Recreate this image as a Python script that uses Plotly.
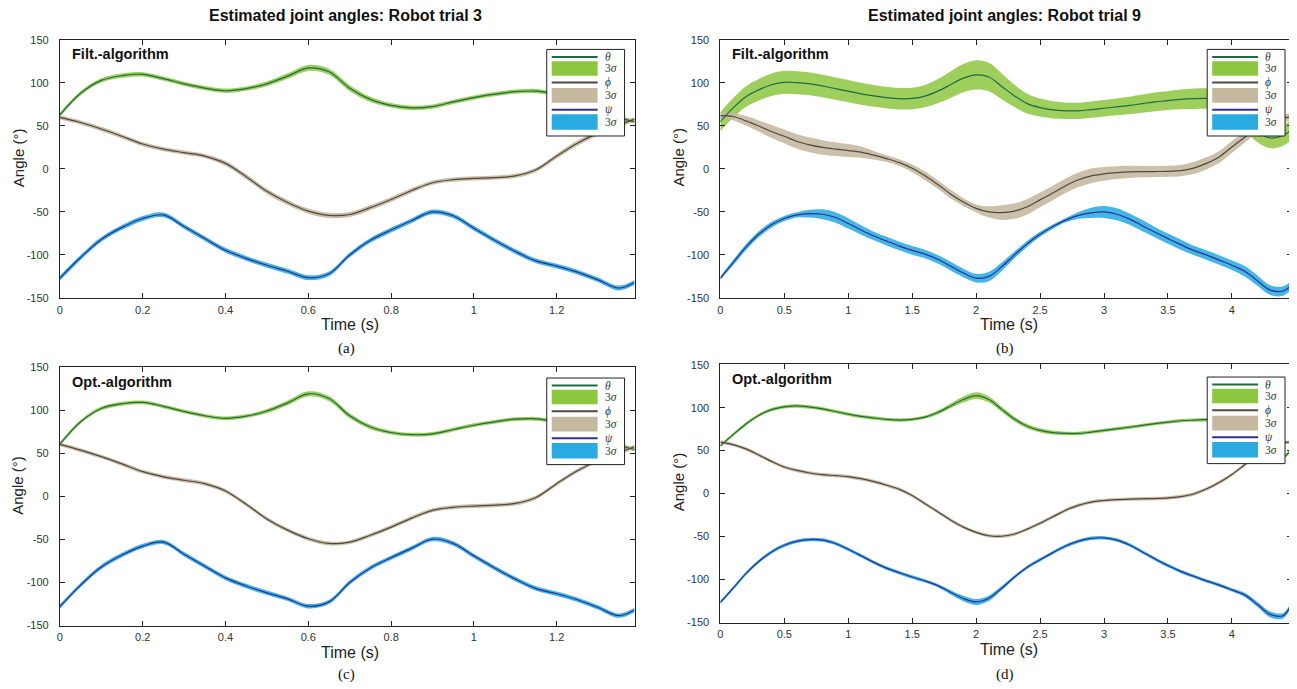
import plotly.graph_objects as go

W, H = 1297, 689
OFF = 8  # browser body margin of the page
WF, HF = W - OFF, H - OFF

# ---------------- data ----------------
# Robot trial 3 (panels a, c)
t_a = [0, 0.05, 0.1, 0.15, 0.2, 0.25, 0.3, 0.35, 0.4, 0.45, 0.5, 0.55, 0.6, 0.65, 0.7,
       0.75, 0.8, 0.85, 0.9, 0.95, 1.0, 1.05, 1.1, 1.15, 1.2, 1.25, 1.3, 1.35, 1.388]
theta_a = [63, 88, 103, 108.5, 110, 105, 99, 94, 91, 93.5, 99, 108, 117.5, 113, 94,
           81, 74, 71, 72.5, 78, 83, 87, 90, 90.5, 87, 82, 72, 60, 55]
phi_a = [60, 54, 46.5, 38, 29, 23, 19, 15, 6.5, -9, -26, -39, -49, -54, -53,
         -45, -35.5, -25, -16, -12.5, -11, -10, -8, -1, 15, 30, 42, 51, 58]
psi_a = [-127, -103, -82, -68, -57.6, -53.5, -67, -81, -94.6, -104, -112, -119, -126.5, -122, -100,
         -83, -71, -60, -50, -54.5, -69, -83, -96, -107, -113, -120, -129, -138.5, -132]
theta_3s_a = [2.5, 2.5, 2.5, 2.5, 2.5, 2.5, 2.5, 2.5, 2.5, 2.5, 2.8, 3.2, 3.5, 3.5, 3.5,
              3.0, 2.6, 2.5, 2.5, 2.5, 2.5, 2.5, 2.5, 2.5, 2.5, 2.5, 2.5, 2.5, 2.5]
phi_3s_a = [2.5, 2.5, 2.5, 2.5, 2.5, 2.5, 2.5, 2.5, 2.8, 3.0, 3.0, 3.0, 3.0, 3.0, 3.0,
            3.0, 3.0, 2.8, 2.5, 2.5, 2.5, 2.5, 2.5, 2.5, 2.8, 3.0, 3.0, 2.8, 2.5]
psi_3s_a = [2.8] * 29

theta_c = [61, 87, 102.5, 108, 109.5, 105, 99, 94, 91, 93.5, 99.5, 109, 119.5, 114, 94,
           81, 74.5, 72, 73, 78, 83, 87, 90, 90.5, 87, 82, 72, 60, 55]
phi_c = [60.7, 54, 46.5, 38, 29, 23, 19, 15, 6.5, -9, -26, -39, -49, -54.5, -53,
         -45, -35.5, -25, -16, -12.5, -11, -10, -8, -1, 15, 30, 42, 51, 58]
psi_c = [-128, -103, -82, -68, -57.6, -53, -67, -81, -94.6, -104, -112, -119, -127.5, -122.5, -100,
         -83, -71, -60, -49.5, -54.5, -69, -83, -96, -107, -113, -120, -129, -138.5, -132]
theta_3s_c = [2.2, 2.2, 2.2, 2.2, 2.2, 2.2, 2.2, 2.2, 2.2, 2.2, 2.5, 2.8, 3.0, 3.0, 3.0,
              2.6, 2.2, 2.2, 2.2, 2.2, 2.2, 2.2, 2.2, 2.2, 2.2, 2.2, 2.2, 2.2, 2.2]
phi_3s_c = [2.3] * 29
psi_3s_c = [2.6] * 29

# Robot trial 9 (panels b, d)
t_b = [0, 0.1, 0.2, 0.3, 0.4, 0.5, 0.6, 0.7, 0.8, 0.9, 1.0, 1.1, 1.2, 1.3, 1.4,
       1.5, 1.6, 1.7, 1.8, 1.9, 2.0, 2.1, 2.2, 2.3, 2.4, 2.5, 2.6, 2.7, 2.8, 2.9,
       3.0, 3.1, 3.2, 3.3, 3.4, 3.5, 3.6, 3.7, 3.8, 3.9, 4.0, 4.1, 4.2, 4.3, 4.4, 4.47]
theta_b = [55, 71, 84, 92, 98, 100.8, 100.4, 99, 96.5, 93.5, 90.5, 87.4, 85, 83, 81.7,
           82, 84.7, 90.5, 98, 105.7, 109.5, 107, 96, 85, 76, 71.4, 68.7, 67.6, 67.6, 69,
           70.6, 72.3, 74, 76, 78, 79.5, 81, 81.7, 82, 82, 76, 58, 43, 36, 39, 46]
phi_b = [62, 61, 56, 50, 43.5, 38, 32, 28, 25, 23, 21.4, 19.5, 16, 12, 7.3,
         0.8, -8, -18, -29, -38.5, -45.8, -50, -50.8, -49, -44, -36, -28, -19.5, -12.6, -8,
         -5.7, -4.3, -3.4, -3.1, -3, -2.7, -2, 1, 6.5, 14, 25.6, 37, 48, 55, 59, 60.7]
psi_b = [-127, -109, -91, -76, -65, -57.6, -53.4, -52, -52.7, -56.5, -63.4, -71, -78, -84, -89.7,
         -94.7, -99, -105, -113, -121, -127, -125, -113.7, -100, -87, -76, -67, -59.5, -54, -51,
         -50, -52.7, -58.4, -66, -73.7, -81, -88, -94.7, -100, -106, -112, -119, -130, -141, -142, -134.5]
theta_3s_b = [11, 11.5, 12, 12.5, 13, 13.4, 13.4, 13.3, 13.2, 13, 13, 12.8, 12.6, 12.5, 12.5,
              12.6, 13, 14, 15.5, 16.5, 17, 16.5, 15, 13, 11.5, 10.5, 10, 9.5, 9.5, 9.5,
              9.5, 9.8, 10, 10.5, 11, 11, 11.5, 12, 12, 12, 12, 12, 12, 12, 12, 12]
phi_3s_b = [4, 4.5, 5.5, 6.5, 7.5, 8, 8.5, 8.5, 8.5, 8, 7.5, 6.5, 5, 4, 4,
            4.5, 5, 5, 5, 4.5, 4.5, 6.5, 8.5, 9, 9, 8.5, 8.5, 8.5, 8.5, 8.5,
            8, 7.5, 7, 6.5, 6.5, 6.5, 6.5, 7, 7, 7, 7, 6.5, 6, 5, 4.5, 4]
psi_3s_b = [2, 3, 3.5, 3.5, 3.5, 3, 3, 4.5, 5.7, 6, 6, 5.5, 5, 5, 5,
            5, 5, 5, 5, 5, 5, 5.5, 5, 4, 3.5, 3, 2.5, 2.5, 4, 6,
            7, 7, 6.5, 6.5, 6, 6, 6, 5.5, 5.5, 5.5, 5.5, 6, 6, 5.7, 5.5, 5]

theta_d = [55.7, 68.6, 81, 91, 97.7, 101, 102, 100.7, 98.5, 95.5, 92.4, 89.8, 88, 86.4, 85.6,
           86.4, 89, 94.3, 102, 109.5, 114, 109.5, 98, 86.7, 78.4, 73.5, 71, 70, 70, 71.6,
           73.5, 75.4, 77.3, 79.4, 81.4, 83.2, 84.8, 85.5, 86, 85, 80, 70, 55, 43, 42, 53]
phi_d = [60, 57, 52, 45, 37.5, 31, 27, 24, 22, 21, 19.7, 17.4, 14, 9.8, 5,
         -2.3, -11.7, -21, -30.7, -39, -45, -49, -49.6, -47, -41.3, -34.5, -27, -19.3, -13.6, -9.8,
         -8, -7, -6.4, -6, -5.7, -5, -3.4, -0.4, 5.3, 12.9, 22.3, 33.7, 45, 54.5, 59, 60]
psi_d = [-126.5, -110, -93, -79, -67.8, -60, -55.3, -53.4, -54, -58, -64.8, -72.3, -80, -86.7, -92,
         -97, -101.5, -107, -114.8, -122, -126, -121.6, -110, -97, -85.6, -77, -68.6, -61, -55.3, -52,
         -51.5, -54, -59.8, -67.8, -76, -83.7, -90.5, -96, -101.5, -106.4, -112, -117.8, -129, -140.5, -142, -127]
theta_3s_d = [2, 2, 2, 2, 2, 2, 2, 2, 2, 2, 2, 2, 2, 2, 2,
              2, 2, 2.3, 2.8, 3.5, 3.8, 3.5, 3, 2.8, 2.6, 2.5, 2.3, 2, 2, 2,
              2, 2, 2, 2, 2, 2, 2, 2, 2, 2, 2, 2, 2, 2, 2, 2]
phi_3s_d = [2] * 46
psi_3s_d = [2, 2, 2, 2, 2, 2, 2, 2, 2, 2, 2, 2, 2, 2, 2,
            2, 2, 2, 2.5, 3.2, 3.5, 3.2, 2.5, 2, 2, 2, 2, 2, 2, 2,
            2, 2, 2, 2, 2, 2, 2, 2, 2, 2, 2, 2.5, 3, 3.5, 3.2, 2.5]

titles = ["Estimated joint angles: Robot trial 3", "Estimated joint angles: Robot trial 9"]
panel_tags = ["(a)", "(b)", "(c)", "(d)"]
algo_names = ["Filt.-algorithm", "Filt.-algorithm", "Opt.-algorithm", "Opt.-algorithm"]
x_ticks_a = [0, 0.2, 0.4, 0.6, 0.8, 1, 1.2]
x_ticks_b = [0, 0.5, 1, 1.5, 2, 2.5, 3, 3.5, 4]
y_ticks = [-150, -100, -50, 0, 50, 100, 150]

# ---------------- style ----------------
C_TH_LINE = "#1d6b45"
C_TH_BAND = "rgba(141,198,63,0.85)"
C_PH_LINE = "#52463e"
C_PH_BAND = "rgba(196,184,158,0.88)"
C_PS_LINE = "#2e3192"
C_PS_BAND = "rgba(41,171,226,0.88)"
LEG_TH_BAND = "#8dc63f"
LEG_PH_BAND = "#c4b89e"
LEG_PS_BAND = "#29abe2"
SANS = "Liberation Sans, Arial, sans-serif"
SERIF = "Liberation Serif, Times New Roman, serif"

def px(x):
    return (x - OFF) / WF

def py(y):
    return 1 - (y - OFF) / HF

# panel boxes in page pixels: (x0, x1, y0(top), y1(bottom))
boxes = [(57, 633, 34, 297), (719, 1292, 34, 297), (57, 633, 367, 630), (719, 1292, 364, 627)]
legend_boxes = [(545, 623, 44), (1207, 1285, 44), (545, 623, 378), (1207, 1285, 377)]

panels = [
    (t_a, theta_a, phi_a, psi_a, theta_3s_a, phi_3s_a, psi_3s_a, 1.388, x_ticks_a),
    (t_b, theta_b, phi_b, psi_b, theta_3s_b, phi_3s_b, psi_3s_b, 4.47, x_ticks_b),
    (t_a, theta_c, phi_c, psi_c, theta_3s_c, phi_3s_c, psi_3s_c, 1.388, x_ticks_a),
    (t_b, theta_d, phi_d, psi_d, theta_3s_d, phi_3s_d, psi_3s_d, 4.47, x_ticks_b),
]

fig = go.Figure()
layout = dict(
    width=WF, height=HF, margin=dict(l=0, r=0, t=0, b=0),
    paper_bgcolor="white", plot_bgcolor="white", showlegend=False,
)
annotations = []
shapes = []

for i, (t, th, ph, ps, th3, ph3, ps3, xmax, xt) in enumerate(panels):
    n = "" if i == 0 else str(i + 1)
    xa, ya = "x" + n, "y" + n
    # 3-sigma bands
    for mean, s3, col in ((th, th3, C_TH_BAND), (ph, ph3, C_PH_BAND), (ps, ps3, C_PS_BAND)):
        up = [m + s for m, s in zip(mean, s3)]
        lo = [m - s for m, s in zip(mean, s3)]
        fig.add_trace(go.Scatter(x=t, y=up, mode="lines", line=dict(width=0, shape="spline", color=col),
                                 xaxis=xa, yaxis=ya, hoverinfo="skip"))
        fig.add_trace(go.Scatter(x=t, y=lo, mode="lines", line=dict(width=0, shape="spline", color=col),
                                 fill="tonexty", fillcolor=col, xaxis=xa, yaxis=ya, hoverinfo="skip"))
    # mean lines
    for mean, col in ((th, C_TH_LINE), (ph, C_PH_LINE), (ps, C_PS_LINE)):
        fig.add_trace(go.Scatter(x=t, y=mean, mode="lines", line=dict(width=1.2, shape="spline", color=col),
                                 xaxis=xa, yaxis=ya))

    x0, x1, y0, y1 = boxes[i]
    axis_common = dict(showline=True, linecolor="#222", linewidth=1, mirror="ticks",
                       ticks="inside", ticklen=5, tickcolor="#222", showgrid=False, zeroline=False,
                       tickfont=dict(family=SANS, size=11, color="#333"))
    layout["xaxis" + n] = dict(domain=[px(x0), px(x1)], range=[0, xmax], anchor=ya,
                               tickvals=xt, ticktext=[f"{v:g}" for v in xt], ticklabelstandoff=1,
                               **axis_common)
    layout["yaxis" + n] = dict(domain=[py(y1), py(y0)], range=[-150.5, 150.5], anchor=xa,
                               tickvals=y_ticks, ticktext=[str(v) for v in y_ticks], ticklabelstandoff=8,
                               **axis_common)

    cx = (x0 + x1) / 2
    # axis titles
    annotations.append(dict(x=px(cx + 3), y=py(y1 + 27), xref="paper", yref="paper", text="Time (s)",
                            showarrow=False, font=dict(family=SANS, size=16, color="#222"),
                            xanchor="center", yanchor="middle", borderpad=0))
    annotations.append(dict(x=px(x0 - 42), y=py((y0 + y1) / 2 - 12), xref="paper", yref="paper",
                            text="Angle (°)", textangle=-90, showarrow=False,
                            font=dict(family=SANS, size=15, color="#222"),
                            xanchor="center", yanchor="middle"))
    # algorithm name
    annotations.append(dict(x=px(x0 + 10), y=py(y0 + 15), xref="paper", yref="paper",
                            text="<b>" + algo_names[i] + "</b>", showarrow=False,
                            font=dict(family=SANS, size=14.5, color="#111"),
                            xanchor="left", yanchor="middle"))
    # panel tag
    tag_y = 348 if i < 2 else 679
    annotations.append(dict(x=px(cx - 1), y=py(tag_y), xref="paper", yref="paper", text=panel_tags[i],
                            showarrow=False, font=dict(family=SERIF, size=15, color="#111"),
                            xanchor="center", yanchor="middle"))

    # legend box (drawn as shapes and texts)
    lx0, lx1, ly0 = legend_boxes[i]
    shapes.append(dict(type="rect", xref="paper", yref="paper", x0=px(lx0), x1=px(lx1),
                       y0=py(ly0 + 88), y1=py(ly0), fillcolor="white", line=dict(color="#222", width=1)))
    items = [("line", C_TH_LINE, 7.7, "<i>θ</i>"), ("patch", LEG_TH_BAND, (12, 26.7), "3<i>σ</i>"),
             ("line", C_PH_LINE, 33.7, "<i>ϕ</i>"), ("patch", LEG_PH_BAND, (39.3, 54.3), "3<i>σ</i>"),
             ("line", C_PS_LINE, 61.3, "<i>ψ</i>"), ("patch", LEG_PS_BAND, (66, 81.7), "3<i>σ</i>")]
    for kind, col, pos, label in items:
        if kind == "line":
            shapes.append(dict(type="line", xref="paper", yref="paper", x0=px(lx0 + 5), x1=px(lx0 + 51),
                               y0=py(ly0 + pos), y1=py(ly0 + pos), line=dict(color=col, width=2)))
            yc = pos
        else:
            shapes.append(dict(type="rect", xref="paper", yref="paper", x0=px(lx0 + 5), x1=px(lx0 + 51),
                               y0=py(ly0 + pos[1]), y1=py(ly0 + pos[0]), fillcolor=col, line=dict(width=0)))
            yc = (pos[0] + pos[1]) / 2
        annotations.append(dict(x=px(lx0 + 57), y=py(ly0 + yc), xref="paper", yref="paper", text=label,
                                showarrow=False, font=dict(family=SERIF, size=11.5, color="#333"),
                                xanchor="left", yanchor="middle", borderpad=0))

# column titles
for j, ttl in enumerate(titles):
    x0, x1 = boxes[j][0], boxes[j][1]
    annotations.append(dict(x=px((x0 + x1) / 2 - 2), y=py(10), xref="paper", yref="paper",
                            text="<b>" + ttl + "</b>", showarrow=False,
                            font=dict(family=SANS, size=16, color="#111"),
                            xanchor="center", yanchor="middle", borderpad=0))

layout["annotations"] = annotations
layout["shapes"] = shapes
fig.update_layout(**layout)
fig.write_html("out.html")
